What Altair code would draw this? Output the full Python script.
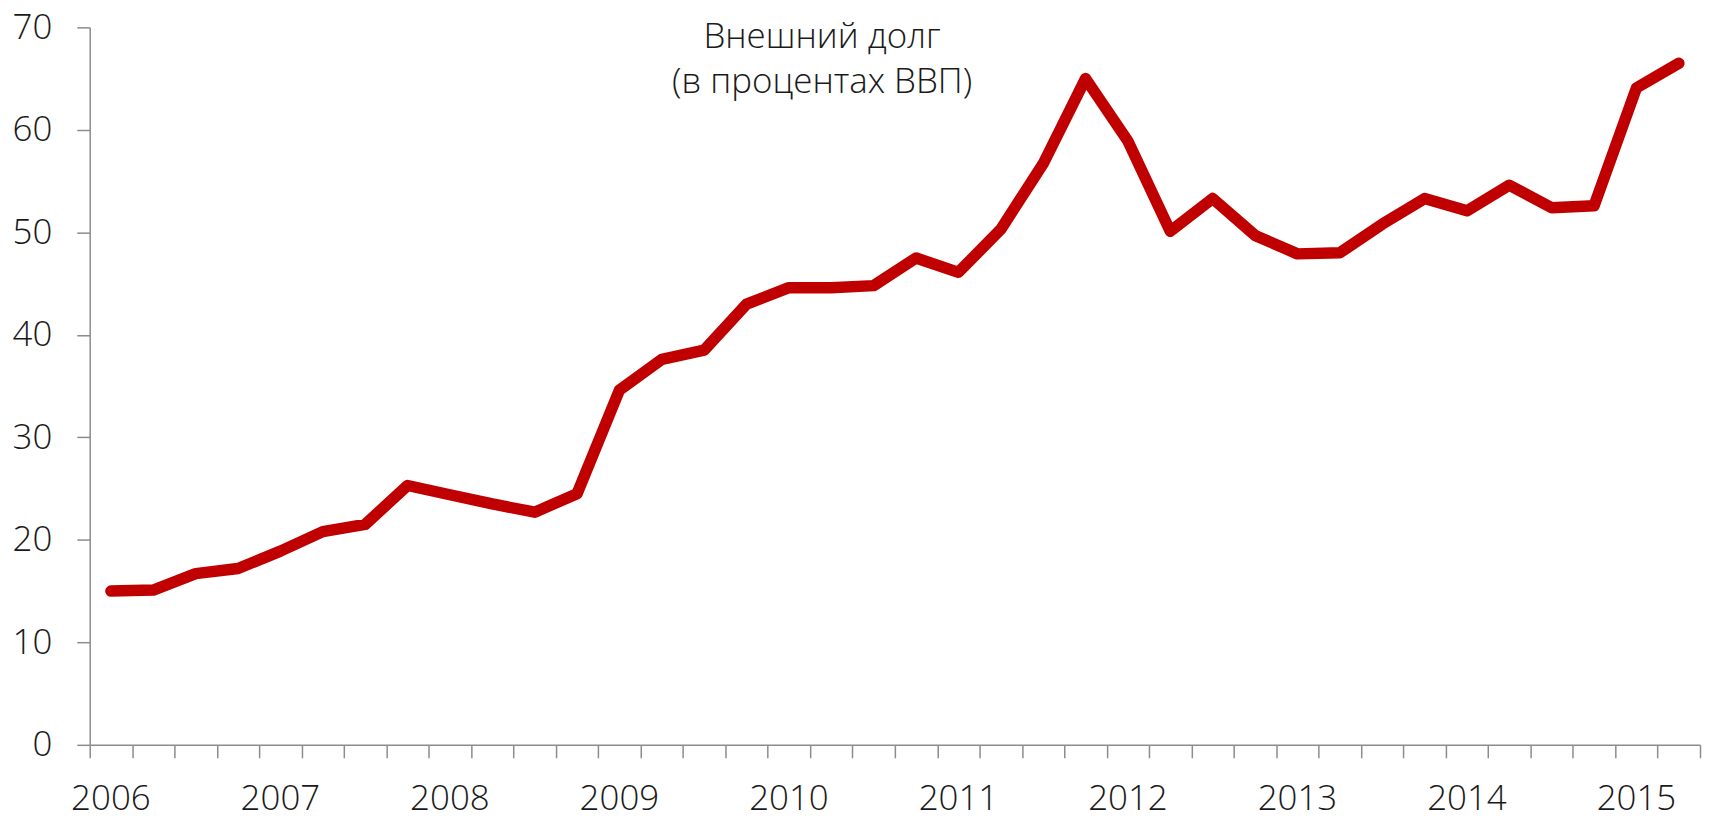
import altair as alt
import pandas as pd

quarters = [
    "2006Q1", "2006Q2", "2006Q3", "2006Q4",
    "2007Q1", "2007Q2", "2007Q3", "2007Q4",
    "2008Q1", "2008Q2", "2008Q3", "2008Q4",
    "2009Q1", "2009Q2", "2009Q3", "2009Q4",
    "2010Q1", "2010Q2", "2010Q3", "2010Q4",
    "2011Q1", "2011Q2", "2011Q3", "2011Q4",
    "2012Q1", "2012Q2", "2012Q3", "2012Q4",
    "2013Q1", "2013Q2", "2013Q3", "2013Q4",
    "2014Q1", "2014Q2", "2014Q3", "2014Q4",
    "2015Q1", "2015Q2",
]
debt = [
    15.0, 15.1, 16.7, 17.2,
    18.9, 20.8, 21.5, 25.3,
    24.4, 23.5, 22.7, 24.5,
    34.6, 37.6, 38.5, 43.0,
    44.6, 44.6, 44.8, 47.5,
    46.1, 50.3, 56.7, 65.0,
    58.9, 50.1, 53.3, 49.7,
    47.9, 48.0, 50.8, 53.3,
    52.1, 54.6, 52.4, 52.6,
    64.1, 66.5,
]
y_ticks = [0, 10, 20, 30, 40, 50, 60, 70]
title_lines = ["Внешний долг", "(в процентах ВВП)"]

n = len(quarters)
df = pd.DataFrame({"quarter": quarters, "debt": debt})

FONT = "Open Sans"
FONT_SIZE = 35
AXIS_GRAY = "#8c8c8c"
TEXT_COLOR = "#1a1a1a"
PLOT_W, PLOT_H = 1616, 720

x_scale = alt.Scale(domain=[0, n], nice=False, zero=False)

base = alt.Chart(df).transform_window(
    row="row_number()"
).transform_calculate(
    pos="datum.row - 0.5",
    year="slice(datum.quarter, 0, 4)",
)

line = base.mark_line(
    color="#C00000", strokeWidth=11.5, strokeCap="round", strokeJoin="round"
).encode(
    x=alt.X(
        "pos:Q",
        scale=x_scale,
        axis=alt.Axis(
            title=None,
            values=list(range(0, n + 1)),
            labels=False,
            grid=False,
            tickSize=13,
            tickWidth=1.5,
            domainWidth=1.5,
            domainColor=AXIS_GRAY,
            tickColor=AXIS_GRAY,
        ),
    ),
    y=alt.Y(
        "debt:Q",
        scale=alt.Scale(domain=[0, 70], nice=False, zero=True),
        axis=alt.Axis(
            title=None,
            values=y_ticks,
            grid=False,
            tickSize=13,
            tickWidth=1.5,
            domainWidth=1.5,
            labelPadding=25,
            domainColor=AXIS_GRAY,
            tickColor=AXIS_GRAY,
            labelFont=FONT,
            labelFontWeight=300,
            labelFontSize=FONT_SIZE,
            labelColor=TEXT_COLOR,
        ),
    ),
)

year_labels = base.transform_filter(
    "slice(datum.quarter, 4) == 'Q1'"
).mark_text(
    font=FONT,
    fontWeight=300,
    fontSize=FONT_SIZE,
    align="center",
    baseline="alphabetic",
    color=TEXT_COLOR,
).encode(
    x=alt.X("pos:Q", scale=x_scale),
    y=alt.value(PLOT_H + 65),
    text="year:N",
)

title = alt.Chart(pd.DataFrame({"a": [0]})).mark_text(
    font=FONT,
    fontWeight=300,
    fontSize=FONT_SIZE,
    lineHeight=45,
    align="center",
    baseline="alphabetic",
    color=TEXT_COLOR,
).encode(
    x=alt.value(735),
    y=alt.value(21),
    text=alt.value(title_lines),
)

chart = alt.layer(line, year_labels, title).properties(
    width=PLOT_W,
    height=PLOT_H,
    autosize=alt.AutoSizeParams(type="none"),
    padding={"left": 82, "top": 18, "right": 5, "bottom": 72},
).configure(background="white").configure_view(stroke=None)

chart.save("out.html", embed_options={"renderer": "svg", "actions": False})
